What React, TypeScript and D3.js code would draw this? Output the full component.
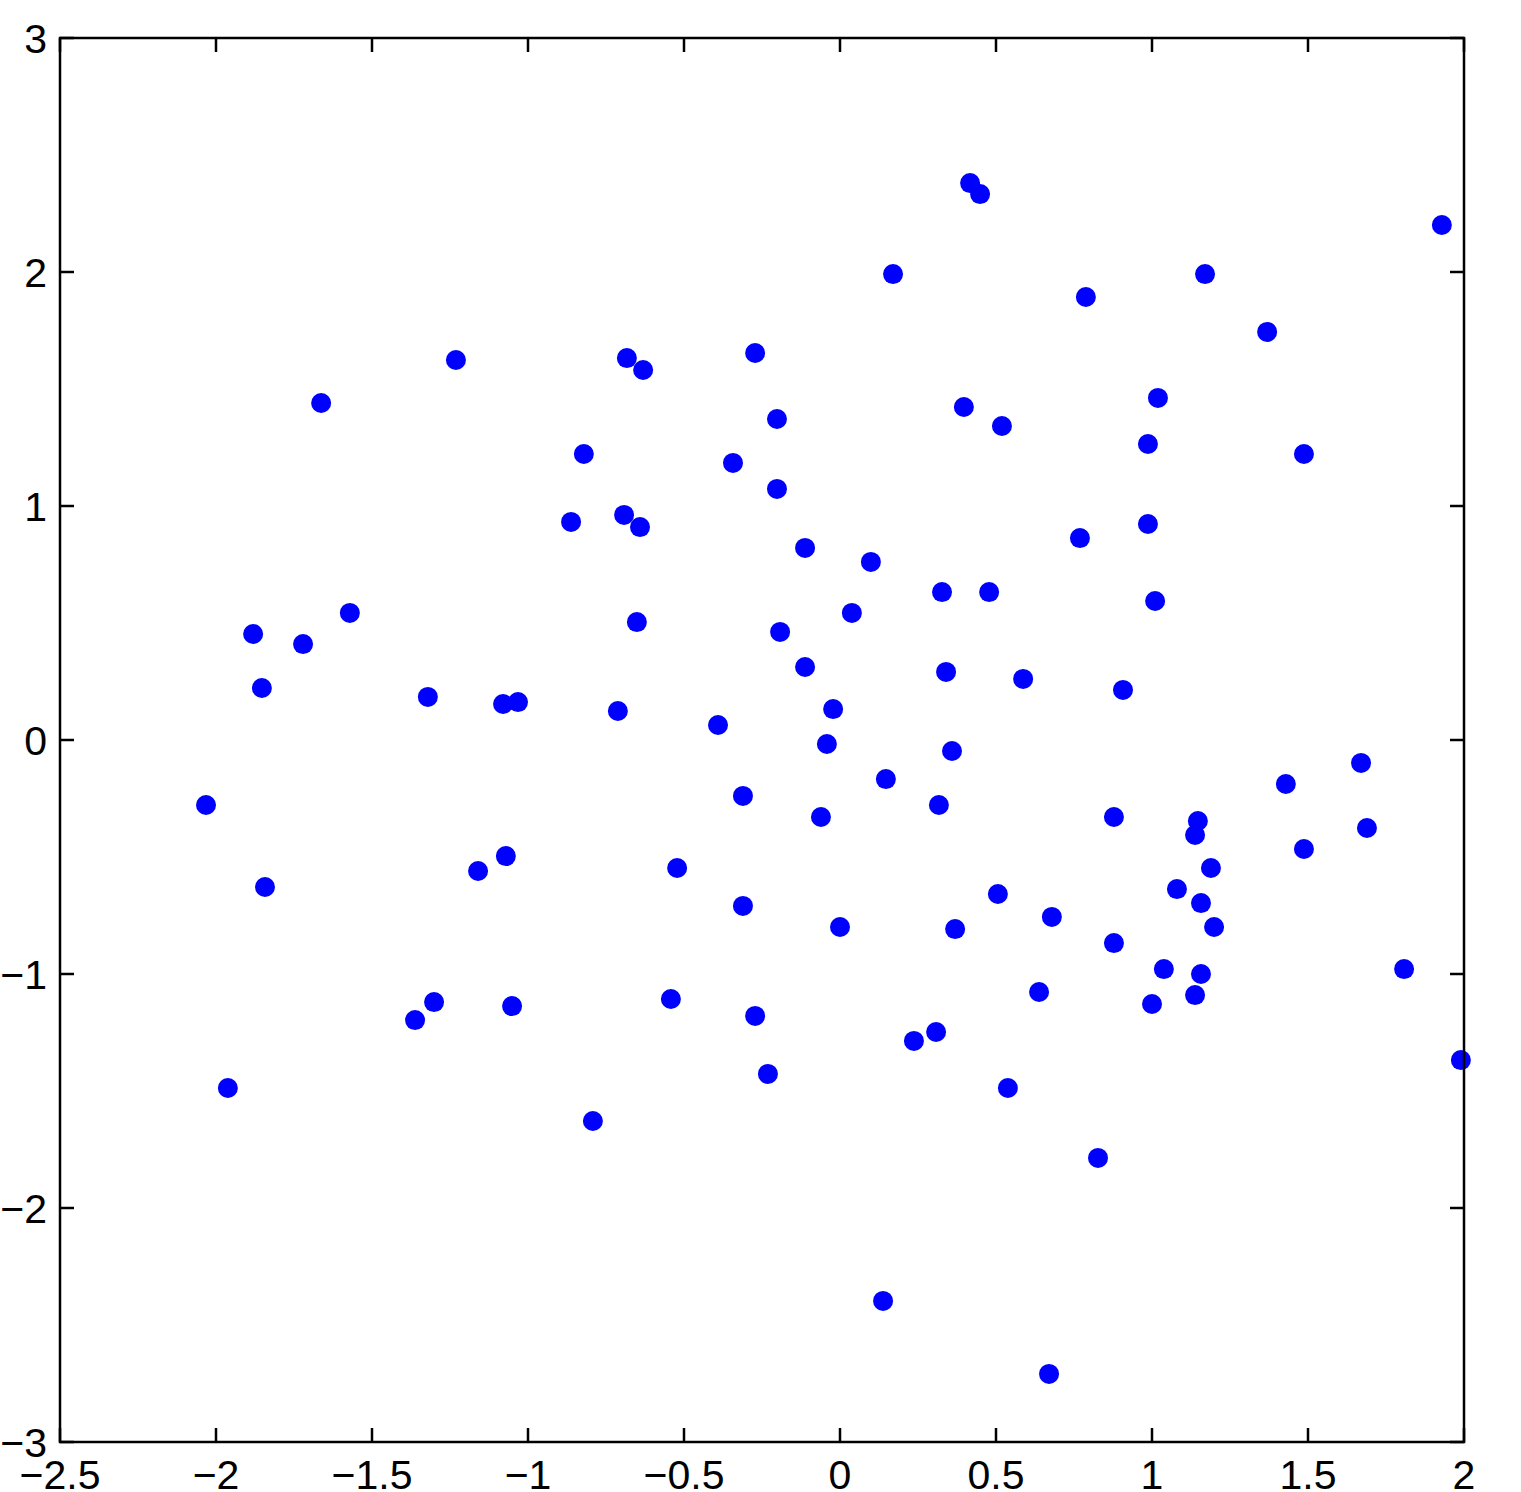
import React from "react";
import * as d3 from "d3";

const xs: number[] = [
  -2.032, -1.962, -1.881, -1.853, -1.843, -1.721, -1.663, -1.571, -1.362, -1.321,
  -1.301, -1.231, -1.160, -1.080, -1.071, -1.051, -1.032, -0.862, -0.821, -0.792,
  -0.712, -0.692, -0.683, -0.651, -0.641, -0.631, -0.542, -0.522, -0.391, -0.343,
  -0.311, -0.311, -0.272, -0.272, -0.231, -0.202, -0.202, -0.192, -0.112, -0.112,
  -0.061, -0.042, -0.022, 0.0, 0.038, 0.099, 0.138, 0.147, 0.170, 0.237,
  0.308, 0.317, 0.327, 0.340, 0.359, 0.369, 0.397, 0.417, 0.449, 0.478,
  0.506, 0.519, 0.538, 0.587, 0.638, 0.670, 0.679, 0.769, 0.788, 0.827,
  0.878, 0.878, 0.907, 0.987, 0.987, 1.0, 1.010, 1.019, 1.038, 1.080,
  1.138, 1.138, 1.147, 1.157, 1.157, 1.170, 1.189, 1.199, 1.369, 1.429,
  1.487, 1.487, 1.670, 1.689, 1.808, 1.929, 1.990,
];
const ys: number[] = [
  -0.278, -1.487, 0.453, 0.222, -0.628, 0.410, 1.440, 0.543, -1.197, 0.184,
  -1.120, 1.624, -0.560, 0.154, -0.496, -1.137, 0.162, 0.932, 1.222, -1.628,
  0.124, 0.962, 1.632, 0.504, 0.910, 1.581, -1.107, -0.547, 0.064, 1.184,
  -0.239, -0.709, 1.654, -1.179, -1.427, 1.372, 1.073, 0.462, 0.821, 0.312,
  -0.329, -0.017, 0.132, -0.799, 0.543, 0.761, -2.397, -0.167, 1.991, -1.286,
  -1.248, -0.278, 0.632, 0.291, -0.047, -0.808, 1.423, 2.380, 2.333, 0.632,
  -0.658, 1.342, -1.487, 0.261, -1.077, -2.709, -0.756, 0.863, 1.893, -1.786,
  -0.329, -0.868, 0.214, 1.265, 0.923, -1.128, 0.594, 1.462, -0.979, -0.637,
  -0.406, -1.090, -0.346, -0.697, -1.0, 1.991, -0.547, -0.799, 1.744, -0.188,
  -0.466, 1.222, -0.098, -0.376, -0.979, 2.201, -1.368,
];
const xTicks: number[] = [-2.5, -2, -1.5, -1, -0.5, 0, 0.5, 1, 1.5, 2];
const yTicks: number[] = [-3, -2, -1, 0, 1, 2, 3];

const W = 1521;
const H = 1492;
const L = 60, R = 1464, T = 38, B = 1442;

const fmt = (v: number) => (v < 0 ? "\u2212" + String(-v) : String(v));

export default function App() {
  const x = d3.scaleLinear().domain([-2.5, 2]).range([L, R]);
  const y = d3.scaleLinear().domain([-3, 3]).range([B, T]);
  const tick = 14;
  const font = "'Liberation Sans', Arial, Helvetica, sans-serif";
  return (
    <svg width={W} height={H} style={{ position: "absolute", left: 0, top: 0, background: "#fff" }}>
      <rect x={0} y={0} width={W} height={H} fill="#fff" />
      {xs.map((v, i) => (
        <circle key={i} cx={x(v)} cy={y(ys[i])} r={10} fill="#0000ff" />
      ))}
      <rect x={L} y={T} width={R - L} height={B - T} fill="none" stroke="#000" strokeWidth={2.5} />
      {xTicks.map((t) => (
        <g key={"x" + t}>
          <line x1={x(t)} x2={x(t)} y1={B} y2={B - tick} stroke="#000" strokeWidth={2.5} />
          <line x1={x(t)} x2={x(t)} y1={T} y2={T + tick} stroke="#000" strokeWidth={2.5} />
          <text x={x(t)} y={1489} textAnchor="middle" fontFamily={font} fontSize={41} fill="#000">
            {fmt(t)}
          </text>
        </g>
      ))}
      {yTicks.map((t) => (
        <g key={"y" + t}>
          <line x1={L} x2={L + tick} y1={y(t)} y2={y(t)} stroke="#000" strokeWidth={2.5} />
          <line x1={R} x2={R - tick} y1={y(t)} y2={y(t)} stroke="#000" strokeWidth={2.5} />
          <text x={47} y={y(t) + 15} textAnchor="end" fontFamily={font} fontSize={41} fill="#000">
            {fmt(t)}
          </text>
        </g>
      ))}
    </svg>
  );
}
